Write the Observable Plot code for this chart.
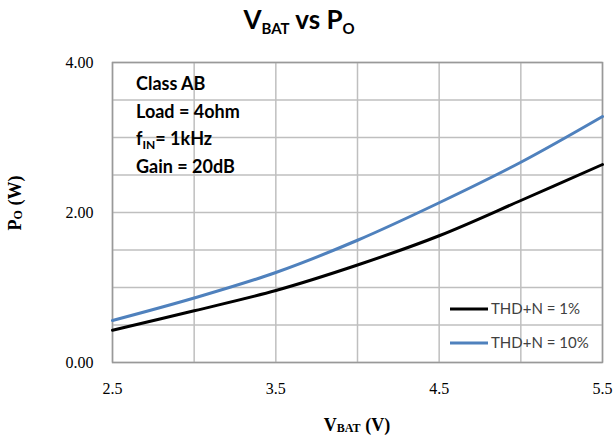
<!DOCTYPE html>
<html><head><meta charset="utf-8">
<script src="https://cdn.jsdelivr.net/npm/d3@7"></script>
<script src="https://cdn.jsdelivr.net/npm/@observablehq/plot@0.6"></script>
<style>
body{margin:0;background:#fff;}
#wrap{width:616px;height:441px;position:relative;overflow:hidden;}
#title{position:absolute;left:0;top:0;width:598px;height:45px;text-align:center;font-family:Lato,sans-serif;font-weight:bold;font-size:26px;line-height:38px;color:#000;}
#title .sub{font-size:15px;position:relative;top:5px;}
#chart{position:absolute;left:0;top:45px;}
</style></head>
<body>
<div id="wrap">
  <div id="title">V<span class="sub">BAT</span> vs P<span class="sub">O</span></div>
  <div id="chart"></div>
</div>
<script>
const vbat = [2.5, 3.0, 3.5, 4.0, 4.5, 5.0, 5.5];
const thd1 = [0.43, 0.69, 0.96, 1.30, 1.69, 2.16, 2.64];
const thd10 = [0.56, 0.86, 1.20, 1.63, 2.13, 2.67, 3.28];
const seriesNames = ["THD+N = 1%", "THD+N = 10%"];
const seriesColors = ["#000000", "#4F81BD"];
const xTicks = [2.5, 3.5, 4.5, 5.5];
const xGrid = [2.5, 3.0, 3.5, 4.0, 4.5, 5.0, 5.5];
const yTicks = [0, 2, 4];
const yGrid = [0, 0.5, 1, 1.5, 2, 2.5, 3, 3.5, 4];
const notes = ["Class AB", "Load = 4ohm", "f|IN|= 1kHz", "Gain = 20dB"];

const rows = [];
vbat.forEach((v, i) => {
  rows.push({v, p: thd1[i], s: seriesNames[0]});
  rows.push({v, p: thd10[i], s: seriesNames[1]});
});

const W = 616, H = 396, mL = 112, mR = 14, mT = 17, mB = 79;
const chart = Plot.plot({
  width: W, height: H,
  marginLeft: mL, marginRight: mR, marginTop: mT, marginBottom: mB,
  style: {fontFamily: "'Liberation Serif', serif", fontSize: "16px", color: "#000", background: "#fff"},
  x: {domain: [2.5, 5.5], ticks: xTicks, tickFormat: d3.format(".1f"), tickSize: 0, tickPadding: 20, label: null},
  y: {domain: [0, 4], ticks: yTicks, tickFormat: d3.format(".2f"), tickSize: 0, tickPadding: 19, label: null},
  color: {domain: seriesNames, range: seriesColors},
  marks: [
    Plot.gridX(xGrid, {stroke: "#bfbfbf", strokeOpacity: 1, strokeWidth: 1.5}),
    Plot.gridY(yGrid, {stroke: "#bfbfbf", strokeOpacity: 1, strokeWidth: 1.5}),
    Plot.frame({stroke: "#999999", strokeOpacity: 1, strokeWidth: 1.5}),
    Plot.line(rows, {x: "v", y: "p", stroke: "s", z: "s", strokeWidth: 3, curve: "catmull-rom"})
  ]
});
document.getElementById("chart").appendChild(chart);

const svg = d3.select(chart);
// axis labels
const xl = svg.append("text")
  .attr("x", 357).attr("y", 386)
  .attr("text-anchor", "middle")
  .attr("font-family", "'Liberation Serif', serif").attr("font-weight", "bold").attr("font-size", 18).attr("fill", "#000");
xl.append("tspan").text("V");
xl.append("tspan").text("BAT").attr("font-size", 12).attr("dy", 1);
xl.append("tspan").text(" (V)").attr("dy", -1);

const yl = svg.append("text")
  .attr("transform", `translate(21,158) rotate(-90)`)
  .attr("text-anchor", "middle")
  .attr("font-family", "'Liberation Serif', serif").attr("font-weight", "bold").attr("font-size", 18).attr("fill", "#000");
yl.append("tspan").text("P");
yl.append("tspan").text("O").attr("font-size", 12).attr("dy", 1);
yl.append("tspan").text(" (W)").attr("dy", -1);

// annotation
notes.forEach((n, i) => {
  const t = svg.append("text")
    .attr("x", 136).attr("y", 45 + i * 27.5)
    .attr("text-anchor", "start")
    .attr("font-family", "Lato, sans-serif").attr("font-weight", "bold").attr("font-size", 18).attr("fill", "#000");
  const parts = n.split("|");
  if (parts.length === 3) {
    t.append("tspan").text(parts[0]);
    t.append("tspan").text(parts[1]).attr("font-size", 12).attr("dy", 4);
    t.append("tspan").text(parts[2]).attr("dy", -4);
  } else t.text(n);
});

// legend
seriesNames.forEach((n, i) => {
  const y = 264 + i * 34;
  svg.append("line").attr("x1", 450).attr("x2", 488).attr("y1", y).attr("y2", y)
    .attr("stroke", seriesColors[i]).attr("stroke-width", 3);
  svg.append("text").attr("x", 491).attr("y", y).attr("dy", "0.35em")
    .attr("text-anchor", "start")
    .attr("font-family", "Lato, sans-serif").attr("font-size", 15).attr("fill", "#404040").text(n);
});
</script>
</body></html>
